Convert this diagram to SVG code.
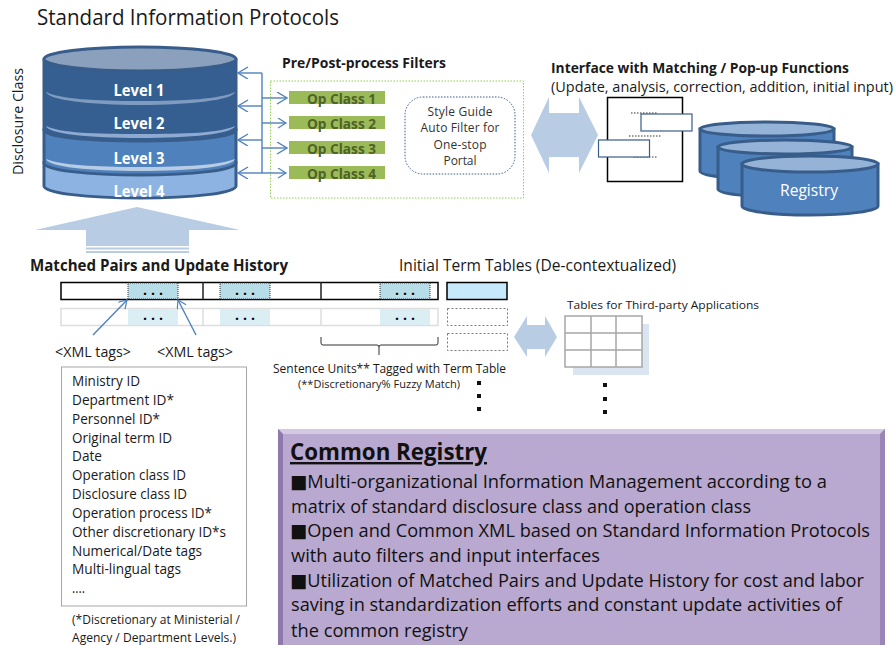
<svg xmlns="http://www.w3.org/2000/svg" width="896" height="645" viewBox="0 0 896 645">
<style>
text{font-family:"Open Sans","Noto Sans","DejaVu Sans",sans-serif;fill:#1a1a1a;font-size:15px}
.b{font-weight:700}
.lvl{font-weight:700;fill:#fff;font-size:16px;text-anchor:middle}
.op{font-weight:700;fill:#4f6228;font-size:15px}
.bar{fill:#9bbb59}
.sg{font-size:12px;fill:#333;text-anchor:middle}
.li{font-size:14.500px}
.pu{font-size:18.500px;fill:#111}
.cyl{stroke:#385d8a;stroke-width:3}
.ln{fill:none;stroke:#4f81bd;stroke-width:1.400}
.big{fill:#b8cce4}
.dots{font-weight:700;font-size:14px;text-anchor:middle;fill:#000}
.dot{stroke:#777;stroke-width:1;stroke-dasharray:2 2;fill:none}
.sq{fill:#111}
</style>
<defs>
<marker id="v" markerUnits="userSpaceOnUse" markerWidth="16" markerHeight="16" refX="11" refY="6" orient="auto">
<path d="M1 0L11 6L1 12" fill="none" stroke="#4f81bd" stroke-width="1.400"/>
</marker>
<marker id="vs" markerUnits="userSpaceOnUse" markerWidth="16" markerHeight="16" refX="9" refY="5" orient="auto">
<path d="M1 0L9 5L1 10" fill="none" stroke="#4f81bd" stroke-width="1.200"/>
</marker>
</defs>
<rect width="896" height="645" fill="#fff"/>

<g id="title"><text x="37" y="25" style="font-size:21px" textLength="302" lengthAdjust="spacingAndGlyphs">Standard Information Protocols</text></g>
<g id="axis-label"><text transform="translate(23 175) rotate(-90)" textLength="107" lengthAdjust="spacingAndGlyphs">Disclosure Class</text></g>

<g id="disclosure-stack">
<path class="cyl" fill="#8db3e2" d="M44 163V186C44 193 87 198 140 198S236 193 236 186V163Z"/>
<path class="cyl" fill="#4f81bd" d="M44 130V163C44 170 87 175 140 175S236 170 236 163V130Z"/>
<path class="cyl" fill="#355f91" d="M44 60V130C44 137 87 141 140 141S236 137 236 130V60Z"/>
<ellipse cx="140" cy="59" rx="96" ry="12" fill="#8aa0bd" stroke="#385d8a" stroke-width="3"/>
<path fill="#7f9cc0" d="M46 92C60 99 95 101 140 101S220 99 235 92C233 100 190 105 140 105S48 100 46 92Z"/>
<path fill="#8eaad0" d="M46 126C60 133 95 134 140 134S220 133 235 126C233 134 190 138 140 138S48 134 46 126Z"/>
<path fill="#b8cce4" d="M46 159C60 165 95 167 140 167S220 165 235 159C233 167 190 171 140 171S48 167 46 159Z"/>
<text class="lvl" x="139" y="96" textLength="51" lengthAdjust="spacingAndGlyphs">Level 1</text>
<text class="lvl" x="139" y="129" textLength="51" lengthAdjust="spacingAndGlyphs">Level 2</text>
<text class="lvl" x="139" y="164" textLength="51" lengthAdjust="spacingAndGlyphs">Level 3</text>
<text class="lvl" x="139" y="197" textLength="51" lengthAdjust="spacingAndGlyphs">Level 4</text>
</g>

<g id="filters-box">
<text class="b" x="282" y="68" textLength="164" lengthAdjust="spacingAndGlyphs">Pre/Post-process Filters</text>
<rect x="270.500" y="81" width="253" height="117" fill="none" stroke="#92d050" stroke-width="1" stroke-dasharray="1.500 1.500"/>
</g>
<g id="op-class-1"><rect class="bar" x="289" y="91" width="96" height="13"/><text class="op" x="307" y="104" textLength="69" lengthAdjust="spacingAndGlyphs">Op Class 1</text></g>
<g id="op-class-2"><rect class="bar" x="289" y="116" width="96" height="13"/><text class="op" x="307" y="129" textLength="69" lengthAdjust="spacingAndGlyphs">Op Class 2</text></g>
<g id="op-class-3"><rect class="bar" x="289" y="141" width="96" height="13"/><text class="op" x="307" y="154" textLength="69" lengthAdjust="spacingAndGlyphs">Op Class 3</text></g>
<g id="op-class-4"><rect class="bar" x="289" y="166" width="96" height="13"/><text class="op" x="307" y="179" textLength="69" lengthAdjust="spacingAndGlyphs">Op Class 4</text></g>
<g id="style-guide">
<rect x="405" y="97" width="110" height="77" rx="18" fill="none" stroke="#385d8a" stroke-width="1" stroke-dasharray="1.500 1.500"/>
<text class="sg" x="460" y="116" textLength="65" lengthAdjust="spacing">Style Guide</text>
<text class="sg" x="460" y="132" textLength="79" lengthAdjust="spacing">Auto Filter for</text>
<text class="sg" x="460" y="149" textLength="53" lengthAdjust="spacing">One-stop</text>
<text class="sg" x="460" y="165" textLength="33" lengthAdjust="spacing">Portal</text>
</g>

<g id="up-arrow">
<path class="big" d="M137 207L240 230H189V246H86V230H35Z"/>
<rect class="big" x="86" y="247.500" width="103" height="2"/>
<rect class="big" x="86" y="251" width="103" height="2"/>
</g>
<g id="interface-arrow"><path class="big" d="M531 135L549 97V113H579V97L598 135L579 173V157H549V173Z"/></g>

<g id="interface-title">
<text class="b" x="551" y="73" style="font-size:14px" textLength="298" lengthAdjust="spacingAndGlyphs">Interface with Matching / Pop-up Functions</text>
<text x="551" y="92" style="font-size:14.500px" textLength="342" lengthAdjust="spacingAndGlyphs">(Update, analysis, correction, addition, initial input)</text>
</g>
<g id="document">
<rect x="607.500" y="97.500" width="75" height="84" fill="#fff" stroke="#000" stroke-width="1.500"/>
<path stroke="#333" stroke-width="1" stroke-dasharray="1.500 1.500" fill="none" d="M631 113H658M629 136H661M634 157H657"/>
<rect x="641" y="114" width="51" height="17" fill="#fff" stroke="#385d8a" stroke-width="1.200"/>
<rect x="598.500" y="140" width="51" height="17" fill="#fff" stroke="#385d8a" stroke-width="1.200"/>
</g>
<g id="registry">
<path class="cyl" fill="#4f81bd" d="M700 129V171C700 176 730 179 767 179S834 176 834 171V129Z"/>
<ellipse class="cyl" cx="767" cy="129" rx="67" ry="7" fill="#95b3d7"/>
<path class="cyl" fill="#4f81bd" d="M718 147V189C718 194 748 197 785 197S852 194 852 189V147Z"/>
<ellipse class="cyl" cx="785" cy="147" rx="67" ry="7" fill="#95b3d7"/>
<path class="cyl" fill="#4f81bd" d="M742 164V206C742 211 772 215 810 215S878 211 878 206V164Z"/>
<ellipse class="cyl" cx="810" cy="164" rx="68" ry="8" fill="#95b3d7"/>
<text x="780" y="196" style="fill:#fff;font-size:17px" textLength="58" lengthAdjust="spacingAndGlyphs">Registry</text>
</g>

<g id="matched-pairs">
<text class="b" x="30" y="271" style="font-size:16px" textLength="258" lengthAdjust="spacingAndGlyphs">Matched Pairs and Update History</text>
<rect x="61" y="308.500" width="377" height="17" fill="#fff" stroke="#ddd" stroke-width="1.500"/>
<path stroke="#ddd" stroke-width="1.500" d="M203 308V325M321 308V325"/>
<rect x="128" y="309" width="50" height="16" fill="#daeef3"/>
<rect x="220" y="309" width="50" height="16" fill="#daeef3"/>
<rect x="380" y="309" width="50" height="16" fill="#daeef3"/>
<rect x="61" y="282.500" width="377" height="17" fill="#fff" stroke="#000" stroke-width="1.500"/>
<path stroke="#222" stroke-width="1.500" d="M203 282V299M321 282V299"/>
<rect x="128" y="283" width="50" height="16" fill="#b7dde8" stroke="#333" stroke-dasharray="1 1"/>
<rect x="220" y="283" width="50" height="16" fill="#b7dde8" stroke="#333" stroke-dasharray="1 1"/>
<rect x="380" y="283" width="50" height="16" fill="#b7dde8" stroke="#333" stroke-dasharray="1 1"/>
<text class="dots" x="155" y="295" letter-spacing="4">...</text>
<text class="dots" x="247" y="295" letter-spacing="4">...</text>
<text class="dots" x="407" y="295" letter-spacing="4">...</text>
<text class="dots" x="155" y="320" letter-spacing="4">...</text>
<text class="dots" x="247" y="320" letter-spacing="4">...</text>
<text class="dots" x="407" y="320" letter-spacing="4">...</text>
<path fill="none" stroke="#333" stroke-width="1" d="M321 337V343Q321 345 323 345H377Q379 345 379 347V355M379 347Q379 345 381 345H436Q438 345 438 343V337"/>
<text x="55" y="357" textLength="76" lengthAdjust="spacingAndGlyphs">&lt;XML tags&gt;</text>
<text x="157" y="357" textLength="76" lengthAdjust="spacingAndGlyphs">&lt;XML tags&gt;</text>
<text x="273" y="373" style="font-size:12.500px" textLength="233" lengthAdjust="spacingAndGlyphs">Sentence Units** Tagged with Term Table</text>
<text x="298" y="388" style="font-size:11.500px" textLength="162" lengthAdjust="spacingAndGlyphs">(**Discretionary% Fuzzy Match)</text>
</g>

<g id="term-tables">
<text x="399" y="271" style="font-size:17px" textLength="277" lengthAdjust="spacingAndGlyphs">Initial Term Tables (De-contextualized)</text>
<rect x="447" y="282.500" width="60" height="17" fill="#c6e9fc" stroke="#000" stroke-width="1.500"/>
<rect class="dot" x="447.500" y="308.500" width="60" height="17"/>
<rect class="dot" x="447.500" y="333.500" width="60" height="17"/>
<rect class="sq" x="477" y="381" width="4" height="4"/>
<rect class="sq" x="477" y="394" width="4" height="4"/>
<rect class="sq" x="477" y="407" width="4" height="4"/>
</g>

<g id="third-party-arrow"><path class="big" d="M514 337L527 316V325H545V316L557 337L545 357V349H527V357Z"/></g>
<g id="third-party-tables">
<text x="567" y="309" style="font-size:11.500px" textLength="192" lengthAdjust="spacingAndGlyphs">Tables for Third-party Applications</text>
<rect x="573" y="324" width="76" height="51" fill="#dbe5f1"/>
<rect x="565" y="316" width="77" height="51" fill="#fff" stroke="#a6a6a6" stroke-width="1.500"/>
<path fill="none" stroke="#a6a6a6" stroke-width="1.500" d="M591 316V367M616 316V367M565 333H642M565 350H642"/>
<rect class="sq" x="603" y="383" width="4" height="4"/>
<rect class="sq" x="603" y="397" width="4" height="4"/>
<rect class="sq" x="603" y="410" width="4" height="4"/>
</g>

<g id="xml-tag-list">
<rect x="61.500" y="367" width="185" height="239" fill="#fff" stroke="#a6a6a6" stroke-width="1"/>
<text class="li" x="72" y="386" textLength="68" lengthAdjust="spacingAndGlyphs">Ministry ID</text>
<text class="li" x="72" y="405" textLength="102" lengthAdjust="spacingAndGlyphs">Department ID*</text>
<text class="li" x="72" y="424" textLength="88" lengthAdjust="spacingAndGlyphs">Personnel ID*</text>
<text class="li" x="72" y="443" textLength="100" lengthAdjust="spacingAndGlyphs">Original term ID</text>
<text class="li" x="72" y="461" textLength="30" lengthAdjust="spacingAndGlyphs">Date</text>
<text class="li" x="72" y="480" textLength="114" lengthAdjust="spacingAndGlyphs">Operation class ID</text>
<text class="li" x="72" y="499" textLength="115" lengthAdjust="spacingAndGlyphs">Disclosure class ID</text>
<text class="li" x="72" y="518" textLength="140" lengthAdjust="spacingAndGlyphs">Operation process ID*</text>
<text class="li" x="72" y="537" textLength="154" lengthAdjust="spacingAndGlyphs">Other discretionary ID*s</text>
<text class="li" x="72" y="556" textLength="130" lengthAdjust="spacingAndGlyphs">Numerical/Date tags</text>
<text class="li" x="72" y="574" textLength="109" lengthAdjust="spacingAndGlyphs">Multi-lingual tags</text>
<text class="li" x="72" y="593" textLength="13" lengthAdjust="spacingAndGlyphs">....</text>
<text x="72" y="624" style="font-size:12.500px" textLength="168" lengthAdjust="spacingAndGlyphs">(*Discretionary at Ministerial /</text>
<text x="72" y="642" style="font-size:12.500px" textLength="164" lengthAdjust="spacingAndGlyphs">Agency / Department Levels.)</text>
</g>

<g id="common-registry">
<rect x="278" y="429" width="607" height="216" fill="#b9a8cf"/>
<path fill="#d4c9e2" d="M278 429H885L880 434H283Z"/>
<path fill="#8e78ad" d="M278 429L283 434V645H278Z"/>
<path fill="#9a86b6" d="M885 429L880 434V645H885Z"/>
<text class="b" x="290" y="460" style="font-size:24px;fill:#111;text-decoration:underline" textLength="197" lengthAdjust="spacingAndGlyphs">Common Registry</text>
<text class="pu" x="290" y="488" textLength="537" lengthAdjust="spacingAndGlyphs">■Multi-organizational Information Management according to a</text>
<text class="pu" x="291" y="513" textLength="460" lengthAdjust="spacingAndGlyphs">matrix of standard disclosure class and operation class</text>
<text class="pu" x="290" y="537" textLength="580" lengthAdjust="spacingAndGlyphs">■Open and Common XML based on Standard Information Protocols</text>
<text class="pu" x="291" y="562" textLength="309" lengthAdjust="spacingAndGlyphs">with auto filters and input interfaces</text>
<text class="pu" x="290" y="587" textLength="574" lengthAdjust="spacingAndGlyphs">■Utilization of Matched Pairs and Update History for cost and labor</text>
<text class="pu" x="291" y="611" textLength="551" lengthAdjust="spacingAndGlyphs">saving in standardization efforts and constant update activities of</text>
<text class="pu" x="291" y="637" textLength="177" lengthAdjust="spacingAndGlyphs">the common registry</text>
</g>

<g id="connectors">
<path class="ln" d="M262 73V173"/>
<path class="ln" marker-end="url(#v)" d="M262 73H238"/>
<path class="ln" marker-end="url(#v)" d="M262 106H238"/>
<path class="ln" marker-end="url(#v)" d="M262 140H238"/>
<path class="ln" marker-end="url(#v)" d="M262 173H238"/>
<path class="ln" marker-end="url(#v)" d="M262 98H287"/>
<path class="ln" marker-end="url(#vs)" d="M262 123H286"/>
<path class="ln" marker-end="url(#v)" d="M262 148H287"/>
<path class="ln" marker-end="url(#vs)" d="M262 173H286"/>
<path class="ln" marker-end="url(#vs)" d="M93 335L127 300"/>
<path class="ln" marker-end="url(#vs)" d="M196 335L178 300"/>
</g>
</svg>
